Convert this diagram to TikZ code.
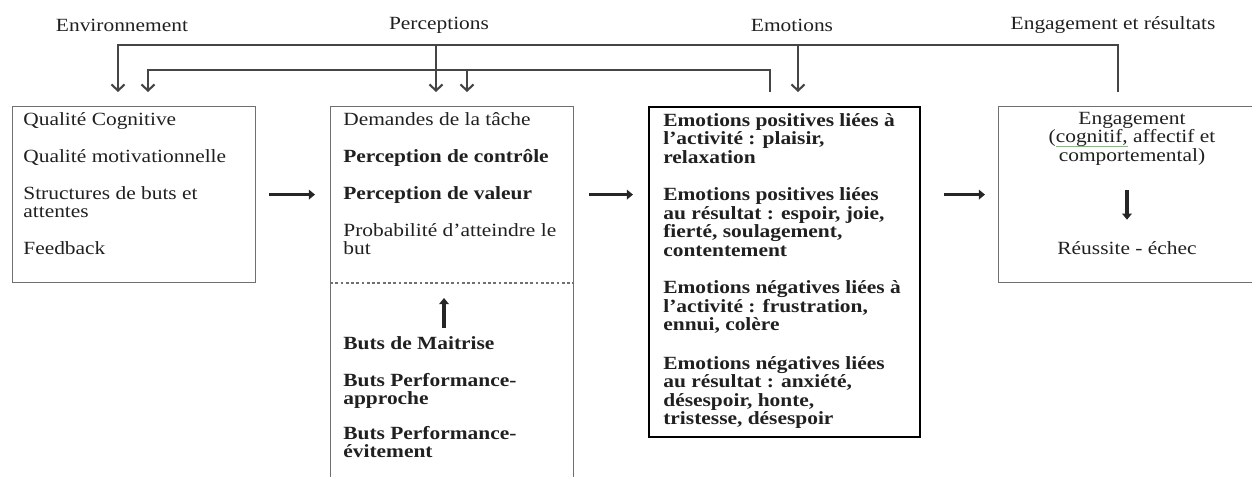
\documentclass[tikz,border=0pt]{standalone}
\usepackage{amsmath, amssymb}
\usepackage{fontspec}
\setmainfont{Liberation Serif}[FakeStretch=1.15]
\usepackage{tikz}
\usetikzlibrary{arrows,arrows.meta,calc,positioning,shapes}

\definecolor{inkgray}{HTML}{202020}
\definecolor{framegray}{HTML}{707070}
\definecolor{linkgray}{HTML}{454545}
\definecolor{spellgreen}{HTML}{8FB38A}

% trait de correcteur sous un mot
\newcommand{\spellmark}[1]{\setbox0\hbox{#1}\rlap{\color{spellgreen}\rule[-1.9pt]{\wd0}{0.45pt}}\box0}

\tikzset{
	head/.style =
	{
		inner sep		= 0pt,
		text			= inkgray,
		font			= \fontsize{10.6}{10.5}\selectfont
	},
	frame/.style =
	{
		draw			= framegray,
		line width		= 0.7pt,
		anchor			= north west,
		inner sep		= 0pt
	},
	boxtext/.style =
	{
		anchor			= north west,
		align			= left,
		inner sep		= 0pt,
		text			= inkgray,
		font			= \fontsize{10.6}{10.5}\selectfont
	},
	boldtext/.style =
	{
		boxtext,
		font			= \fontsize{10.6}{10.5}\selectfont\bfseries
	},
	feedback/.style =
	{
		draw			= linkgray,
		line width		= 0.7pt,
		-{Straight Barb[length=3.5pt, width=7.5pt, line width=1.2pt]}
	},
	flow/.style =
	{
		draw			= black!85,
		line width		= 1.8pt,
		-{Triangle[length=3.5pt, width=5.5pt]}
	},
	split/.style =
	{
		draw			= framegray,
		line width		= 0.6pt,
		dash pattern	= on 1.6pt off 1.4pt
	}
}

\begin{document}
\begin{tikzpicture}[x=0.02cm, y=-0.02cm]
		%
		\clip (0,0) rectangle (1252,477);
		%
		% titres
		\node[head] (env)  at (122,25)  {Environnement};
		\node[head] (perc) at (439,25)  {Perceptions};
		\node[head] (emo)  at (792,25)  {Emotions};
		\node[head] (eng)  at (1113,25) {Engagement et résultats};
		%
		% cadres
		\node[frame, minimum width=4.86cm, minimum height=3.52cm] (envbox) at (12,106) {};
		\node[frame, minimum width=4.86cm, minimum height=7.9cm] (percbox) at (330,106) {};
		\node[frame, draw=black, line width=1.4pt, minimum width=5.42cm, minimum height=6.6cm] (emobox) at (648,106) {};
		\node[frame, minimum width=5.4cm, minimum height=3.52cm] (engbox) at (998,106) {};
		%
		% contenu des cadres
		\node[boxtext] (envtxt) at (23,112)
		{Qualité Cognitive\\[10.6pt]
		Qualité motivationnelle\\[10.6pt]
		Structures de buts et\\ attentes\\[10.6pt]
		Feedback};
		%
		\node[boxtext] (perctxt) at (343,112)
		{Demandes de la tâche\\[10.6pt]
		\textbf{Perception de contrôle}\\[10.6pt]
		\textbf{Perception de valeur}\\[10.6pt]
		Probabilité d’atteindre le\\ but};
		%
		\draw[split] ($(percbox.north west)+(0,177)$) -- ($(percbox.north east)+(0,177)$);
		%
		\node[boldtext] (buts) at (343,336)
		{Buts de Maitrise\\[10.6pt]
		Buts Performance-\\ approche\\[9pt]
		Buts Performance-\\ évitement};
		%
		\node[boldtext] (emotxt) at (663,113)
		{Emotions positives liées à\\ l’activité : plaisir,\\ relaxation\\[10.9pt]
		Emotions positives liées\\ au résultat : espoir, joie,\\ fierté, soulagement,\\ contentement\\[10.9pt]
		Emotions négatives liées à\\ l’activité : frustration,\\ ennui, colère\\[11.6pt]
		Emotions négatives liées\\ au résultat : anxiété,\\ désespoir, honte,\\ tristesse, désespoir};
		%
		\node[boxtext, align=center, anchor=north] (engtxt) at (1132,112)
		{Engagement\\ (\spellmark{cognitif,}\ affectif et\\ comportemental)};
		\node[boxtext, anchor=base] (reussite) at (1127,254) {Réussite - échec};
		%
		% fleches principales
		\draw[flow] ($(envbox.east)+(13,0)$) -- ($(envbox.east -| percbox.west)+(-15,0)$);
		\draw[flow] ($(envbox.east -| percbox.east)+(15,0)$) -- ($(envbox.east -| emobox.west)+(-15,0)$);
		\draw[flow] ($(envbox.east -| emobox.east)+(23,0)$) -- ($(envbox.east -| engbox.west)+(-13,0)$);
		\draw[flow] ($(percbox.north west)+(114,222)$) -- ++(0,-30);
		\draw[flow] ($(reussite.north |- engtxt.south)+(0,24)$) -- ($(reussite.north)+(0,-21)$);
		%
		% retours
		\draw[feedback] ($(engbox.north west)+(120,-14)$) -- ++(0,-47) -| ($(envbox.north west)+(106,-14)$);
		\draw[feedback] ($(percbox.north west)+(106,-61)$) -- ++(0,47);
		\draw[feedback] ($(emobox.north west)+(150,-61)$) -- ++(0,47);
		\draw[feedback] ($(emobox.north west)+(122,-14)$) -- ++(0,-22) -| ($(envbox.north west)+(136,-14)$);
		\draw[feedback] ($(percbox.north west)+(137,-36)$) -- ++(0,22);
		%
	\end{tikzpicture}
\end{document}
